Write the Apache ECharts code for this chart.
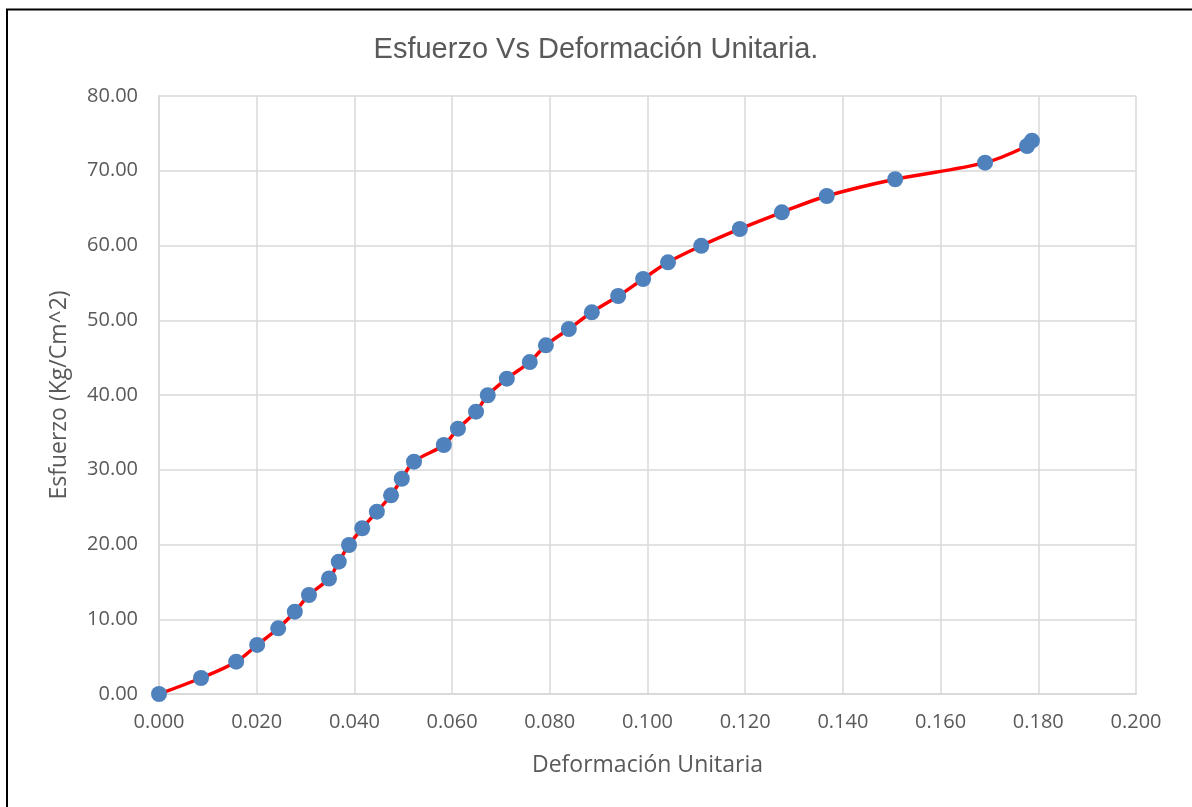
<!DOCTYPE html>
<html>
<head>
<meta charset="utf-8">
<script src="https://cdn.jsdelivr.net/npm/echarts@6/dist/echarts.min.js"></script>
<style>
  html, body { margin: 0; padding: 0; background: #ffffff; }
  #chart { width: 1192px; height: 807px; }
</style>
</head>
<body>
<div id="chart"></div>
<script>
// Unit strain (Deformación Unitaria) and stress in Kg/Cm^2
const deformacion = [
  0.0000, 0.0086, 0.0158, 0.0201, 0.0244, 0.0278, 0.0307, 0.0348, 0.0368, 0.0389,
  0.0416, 0.0446, 0.0475, 0.0497, 0.0522, 0.0583, 0.0612, 0.0649, 0.0673, 0.0712,
  0.0759, 0.0792, 0.0839, 0.0886, 0.0940, 0.0991, 0.1042, 0.1110, 0.1189, 0.1275,
  0.1367, 0.1507, 0.1691, 0.1777, 0.1787
];
const esfuerzo = [
  0.00, 2.14, 4.32, 6.56, 8.79, 11.01, 13.24, 15.45, 17.70, 19.93,
  22.17, 24.39, 26.58, 28.80, 31.08, 33.31, 35.49, 37.77, 39.97, 42.18,
  44.41, 46.65, 48.83, 51.06, 53.24, 55.52, 57.75, 59.96, 62.21, 64.44,
  66.62, 68.86, 71.08, 73.31, 74.02
];
const titulo = 'Esfuerzo Vs Deformación Unitaria.';
const ejeX = 'Deformación Unitaria';
const ejeY = 'Esfuerzo (Kg/Cm^2)';

const puntos = deformacion.map((x, i) => [x, esfuerzo[i]]);

const chart = echarts.init(document.getElementById('chart'), null, { renderer: 'canvas' });
const labelFont = '"Open Sans", "DejaVu Sans", sans-serif';

chart.setOption({
  backgroundColor: '#ffffff',
  animation: false,
  title: {
    text: titulo,
    left: 'center',
    top: 30,
    textStyle: {
      fontFamily: '"Liberation Sans", Arial, sans-serif',
      fontSize: 29,
      fontWeight: 'normal',
      color: '#595959'
    }
  },
  graphic: [
    {
      type: 'polyline',
      shape: { points: [[7, 807], [7, 9.5], [1192, 9.5]] },
      style: { stroke: '#000000', lineWidth: 2, fill: null }
    }
  ],
  grid: { left: 159, right: 56, top: 96, bottom: 113, containLabel: false },
  xAxis: {
    type: 'value',
    min: 0,
    max: 0.2,
    interval: 0.02,
    name: ejeX,
    nameLocation: 'middle',
    nameGap: 60,
    nameTextStyle: { fontFamily: labelFont, fontSize: 23, color: '#595959' },
    axisLine: { show: true, lineStyle: { color: '#d9d9d9', width: 2 } },
    axisTick: { show: false },
    axisLabel: {
      fontFamily: labelFont, fontSize: 20, color: '#595959', margin: 18,
      formatter: v => v.toFixed(3)
    },
    splitLine: { show: true, lineStyle: { color: '#d9d9d9', width: 1.5 } }
  },
  yAxis: {
    type: 'value',
    min: 0,
    max: 80,
    interval: 10,
    name: ejeY,
    nameLocation: 'middle',
    nameGap: 88,
    nameRotate: 90,
    nameTextStyle: { fontFamily: labelFont, fontSize: 23, color: '#595959' },
    axisLine: { show: true, lineStyle: { color: '#d9d9d9', width: 2 } },
    axisTick: { show: false },
    axisLabel: {
      fontFamily: labelFont, fontSize: 20, color: '#595959', margin: 21,
      formatter: v => v.toFixed(2)
    },
    splitLine: { show: true, lineStyle: { color: '#d9d9d9', width: 1.5 } }
  },
  series: [
    {
      type: 'line',
      data: puntos,
      smooth: 0.35,
      symbol: 'circle',
      symbolSize: 16,
      itemStyle: { color: '#4f81bd', borderWidth: 0 },
      lineStyle: { color: '#ff0000', width: 3.5 }
    }
  ]
});
</script>
</body>
</html>
